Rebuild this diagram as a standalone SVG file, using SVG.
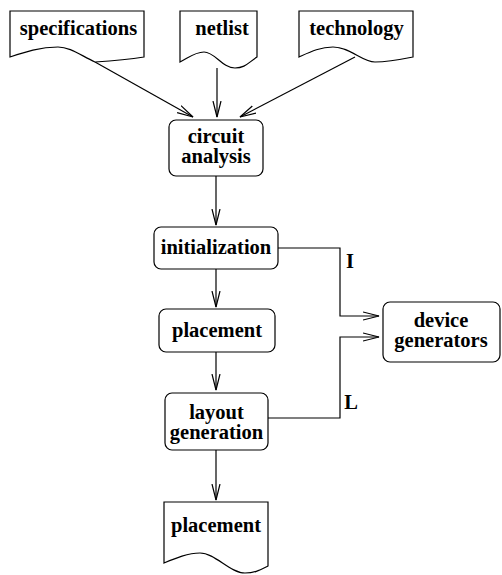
<svg xmlns="http://www.w3.org/2000/svg" width="502" height="575" viewBox="0 0 502 575">
<defs>
<style>
.shape{fill:#fff;stroke:#000;stroke-width:1.2}
.ln{fill:none;stroke:#000;stroke-width:1.2}
text{font-family:"Liberation Serif","Times New Roman",serif;font-weight:bold;font-size:20.5px;fill:#000;text-anchor:middle}
</style>
<marker id="arr" markerUnits="userSpaceOnUse" markerWidth="18" markerHeight="10" refX="16" refY="4" orient="auto" viewBox="0 0 18 8">
<path d="M0,0 L16,4 L0,8" fill="none" stroke="#000" stroke-width="1.2"/>
</marker>
</defs>
<g id="connectors">
<line class="ln" x1="95" y1="62" x2="193" y2="117" marker-end="url(#arr)"/>
<line class="ln" x1="217" y1="68" x2="217" y2="117" marker-end="url(#arr)"/>
<line class="ln" x1="355" y1="57" x2="240" y2="117" marker-end="url(#arr)"/>
<line class="ln" x1="216" y1="176" x2="216" y2="225" marker-end="url(#arr)"/>
<line class="ln" x1="216" y1="269" x2="216" y2="307" marker-end="url(#arr)"/>
<line class="ln" x1="216" y1="352" x2="216" y2="390" marker-end="url(#arr)"/>
<line class="ln" x1="216" y1="450" x2="216" y2="500" marker-end="url(#arr)"/>
<polyline class="ln" points="278,248 340,248 340,316 379,316" marker-end="url(#arr)"/>
<polyline class="ln" points="268,418 340,418 340,337 379,337" marker-end="url(#arr)"/>
<text x="350" y="268">I</text>
<text x="351" y="409">L</text>
</g>
<g id="specifications">
<path class="shape" d="M10,11 H144 V57 C125,60 110,61 95,62 C80,55 70,47 58,47 C40,47 25,52 10,57 Z"/>
<text x="78.5" y="35">specifications</text>
</g>
<g id="netlist">
<path class="shape" d="M180,11 H257 V57 C248,63 245,68 235,68 C222,68 215,52 204,52 C195,52 188,58 180,62 Z"/>
<text x="222" y="35">netlist</text>
</g>
<g id="technology">
<path class="shape" d="M299,11 H413 V57 C398,60 385,62 375,62 C362,62 350,47 333,47 C320,47 310,52 299,57 Z"/>
<text x="356.5" y="35">technology</text>
</g>
<g id="circuit-analysis">
<rect class="shape" x="169" y="120" width="94" height="56" rx="7"/>
<text x="216" y="143">circuit</text>
<text x="216" y="163">analysis</text>
</g>
<g id="initialization">
<rect class="shape" x="154" y="227" width="124" height="42" rx="7"/>
<text x="216" y="254">initialization</text>
</g>
<g id="placement">
<rect class="shape" x="159" y="309" width="116" height="43" rx="7"/>
<text x="217" y="337">placement</text>
</g>
<g id="layout-generation">
<rect class="shape" x="165" y="393" width="103" height="57" rx="7"/>
<text x="216.5" y="419">layout</text>
<text x="216.5" y="439">generation</text>
</g>
<g id="device-generators">
<rect class="shape" x="383" y="302" width="117" height="60" rx="7"/>
<text x="441" y="327">device</text>
<text x="441" y="347">generators</text>
</g>
<g id="placement-out">
<path class="shape" d="M164,502 H268 V566 C260,570 255,573 245,573 C230,573 215,553 200,553 C188,553 176,558 164,563 Z"/>
<text x="216" y="532">placement</text>
</g>
</svg>
